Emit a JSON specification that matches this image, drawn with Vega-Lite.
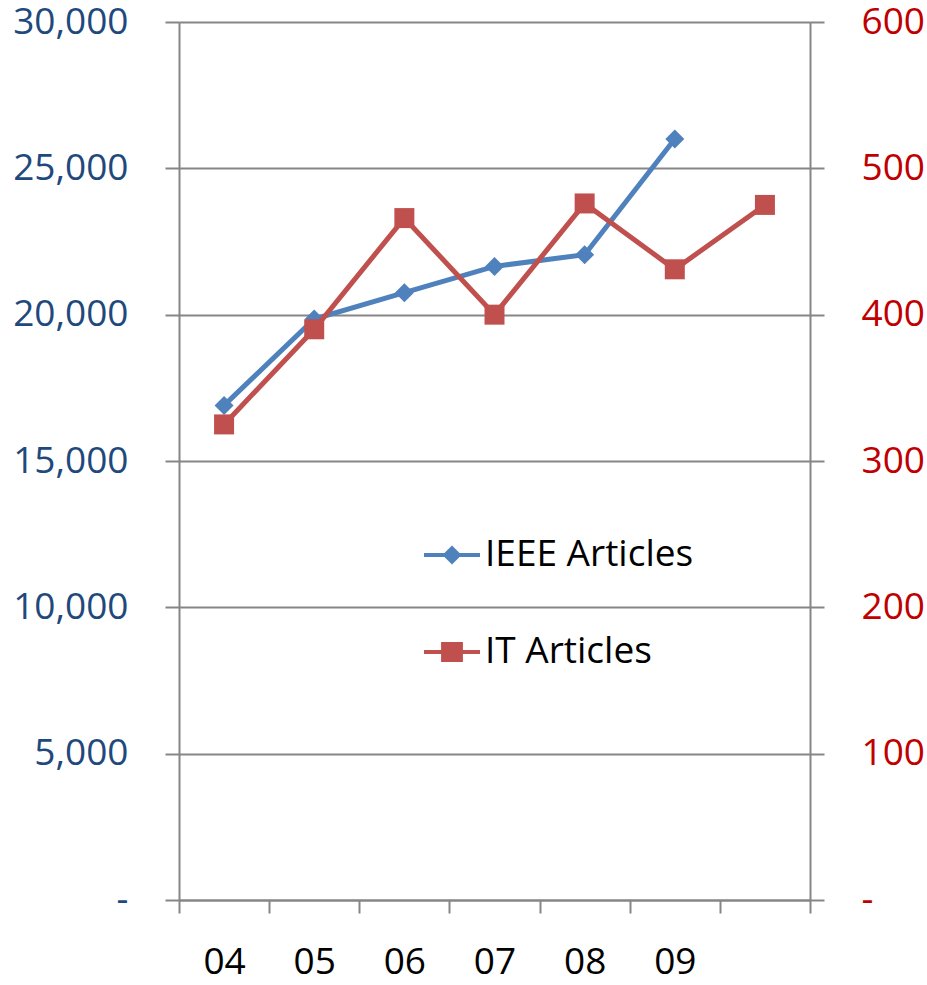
{
  "$schema": "https://vega.github.io/schema/vega-lite/v6.json",
  "width": 631,
  "height": 878,
  "autosize": "none",
  "padding": {"left": 179, "top": 22, "right": 117, "bottom": 85},
  "background": "white",
  "config": {
    "view": {"stroke": null},
    "axis": {"labelFont": "Open Sans", "labelFontSize": 37, "title": null},
    "legend": {"labelFont": "Open Sans", "labelFontSize": 37}
  },
  "datasets": {
    "main": [
      {"year": "04", "ieee": 16900, "it": 325},
      {"year": "05", "ieee": 19850, "it": 390},
      {"year": "06", "ieee": 20750, "it": 466},
      {"year": "07", "ieee": 21650, "it": 400},
      {"year": "08", "ieee": 22050, "it": 476},
      {"year": "09", "ieee": 26000, "it": 431},
      {"year": "10", "ieee": null, "it": 475}
    ],
    "legend": [
      {"series": "IEEE Articles"},
      {"series": "IT Articles"}
    ]
  },
  "data": {"name": "main"},
  "layer": [
    {
      "encoding": {
        "x": {
          "field": "year", "type": "ordinal",
          "scale": {"paddingInner": 0, "paddingOuter": 0},
          "axis": {
            "title": null, "labelAngle": 0, "tickBand": "extent", "tickSize": 13,
            "tickColor": "#868686", "tickWidth": 2, "domainColor": "#868686", "domainWidth": 2,
            "labelPadding": 31, "labelColor": "#000000", "grid": false,
            "labelExpr": "datum.value == '10' ? '' : datum.value"
          }
        },
        "y": {
          "field": "ieee", "type": "quantitative",
          "scale": {"domain": [0, 30000], "nice": false},
          "axis": {
            "orient": "left", "title": null,
            "values": [0, 5000, 10000, 15000, 20000, 25000, 30000],
            "grid": true, "gridColor": "#868686", "gridWidth": 2,
            "domainColor": "#868686", "domainWidth": 2,
            "tickColor": "#868686", "tickWidth": 2, "tickSize": 14,
            "labelPadding": 37, "labelColor": "#1F497D",
            "labelExpr": "datum.value == 0 ? '-' : format(datum.value, ',')",
            "encode": {"labels": {"update": {"dx": {"signal": "datum.value == 0 ? -18 : 0"}}}}
          }
        }
      },
      "layer": [
        {"mark": {"type": "line", "color": "#4F81BD", "strokeWidth": 5}},
        {"mark": {"type": "point", "shape": "diamond", "filled": true, "color": "#4F81BD", "size": 361, "opacity": 1, "strokeWidth": 0}}
      ]
    },
    {
      "encoding": {
        "x": {"field": "year", "type": "ordinal"},
        "y": {
          "field": "it", "type": "quantitative",
          "scale": {"domain": [0, 600], "nice": false},
          "axis": {
            "orient": "right", "title": null,
            "values": [0, 100, 200, 300, 400, 500, 600],
            "grid": false,
            "domainColor": "#868686", "domainWidth": 2,
            "tickColor": "#868686", "tickWidth": 2, "tickSize": 14,
            "labelPadding": 37, "labelColor": "#C00000",
            "labelExpr": "datum.value == 0 ? '-' : format(datum.value, 'd')"
          }
        }
      },
      "layer": [
        {"mark": {"type": "line", "color": "#C0504D", "strokeWidth": 5}},
        {"mark": {"type": "point", "shape": "square", "filled": true, "color": "#C0504D", "size": 400, "opacity": 1, "strokeWidth": 0}}
      ]
    },
    {
      "data": {"name": "legend"},
      "mark": {"type": "point", "filled": true, "opacity": 0},
      "encoding": {
        "color": {
          "field": "series", "type": "nominal",
          "scale": {"domain": ["IEEE Articles", "IT Articles"], "range": ["#4F81BD", "#C0504D"]},
          "legend": {
            "title": null, "orient": "none", "legendX": 245, "legendY": 505,
            "symbolSize": 3136, "symbolStrokeWidth": 0, "symbolOpacity": 1,
            "labelOffset": 5, "rowPadding": 51, "labelColor": "#000000", "padding": 0, "labelLimit": 500
          }
        },
        "shape": {
          "field": "series", "type": "nominal",
          "scale": {
            "domain": ["IEEE Articles", "IT Articles"],
            "range": [
              "M-1,-0.07H-0.27L0,-0.34L0.27,-0.07H1V0.07H0.27L0,0.34L-0.27,0.07H-1Z",
              "M-1,-0.07H-0.39V-0.36H0.39V-0.07H1V0.07H0.39V0.36H-0.39V0.07H-1Z"
            ]
          },
          "legend": {
            "title": null, "orient": "none", "legendX": 245, "legendY": 505,
            "symbolSize": 3136, "symbolStrokeWidth": 0, "symbolOpacity": 1,
            "labelOffset": 5, "rowPadding": 51, "labelColor": "#000000", "padding": 0, "labelLimit": 500
          }
        }
      }
    }
  ],
  "resolve": {"scale": {"y": "independent"}, "axis": {"y": "independent"}}
}
